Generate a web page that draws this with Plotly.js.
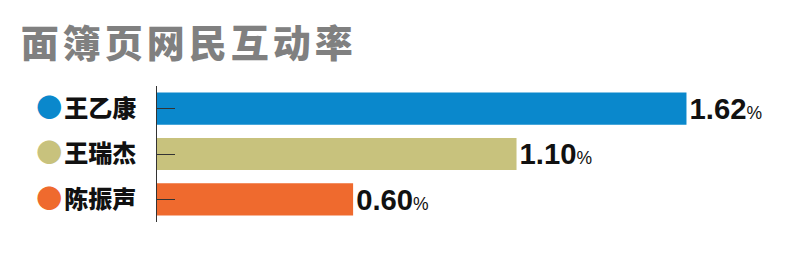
<!DOCTYPE html>
<html><head><meta charset="utf-8">
<script src="https://cdn.plot.ly/plotly-3.0.1.min.js"></script>
<style>body{margin:0;background:#fff}</style>
</head><body>
<div id="chart" style="width:801px;height:259px"></div>
<script>
const titleText = "面簿页网民互动率";
const names = ["王乙康", "王瑞杰", "陈振声"];
const values = [1.62, 1.10, 0.60];
const colors = ["#0a88cc", "#c8c27d", "#ef6a2e"];

const ticktext = names.map((n, i) =>
  '<span style="color:' + colors[i] + ';font-size:26px">●</span><span style="font-size:8px">\u00a0</span>' + n);

const trace = {
  type: "bar",
  orientation: "h",
  y: names,
  x: values,
  marker: {color: colors},
  text: values.map(v => v.toFixed(2)),
  texttemplate: '<b>%{text}</b><span style="font-size:18px">%</span>',
  textposition: "outside",
  cliponaxis: false,
  textfont: {family: "Liberation Sans, Arial, sans-serif", size: 30, color: "#111"},
  hoverinfo: "none"
};

const layout = {
  width: 801, height: 259,
  margin: {l: 157, r: 23, t: 86, b: 37},
  paper_bgcolor: "#fff", plot_bgcolor: "#fff",
  showlegend: false,
  bargap: 0.29,
  title: {
    text: '<span style="letter-spacing:4px">' + titleText + '</span>',
    font: {family: "Noto Sans CJK SC", size: 38, color: "#808080", weight: 900},
    xref: "container", xanchor: "left", x: 0.026,
    yref: "container", yanchor: "top", y: 1, pad: {t: 30}
  },
  xaxis: {
    range: [0, 1.9], visible: false, fixedrange: true
  },
  yaxis: {
    type: "category",
    autorange: "reversed",
    tickvals: names, ticktext: ticktext,
    ticks: "inside", ticklen: 18, tickcolor: "#333", tickwidth: 1,
    showline: true, linecolor: "#333", linewidth: 1,
    showgrid: false, zeroline: false,
    ticklabelstandoff: 15,
    tickfont: {family: "Noto Sans CJK SC", size: 24, color: "#111", weight: 900}
  }
};

Plotly.newPlot("chart", [trace], layout, {displayModeBar: false, staticPlot: true});
</script>
</body></html>
